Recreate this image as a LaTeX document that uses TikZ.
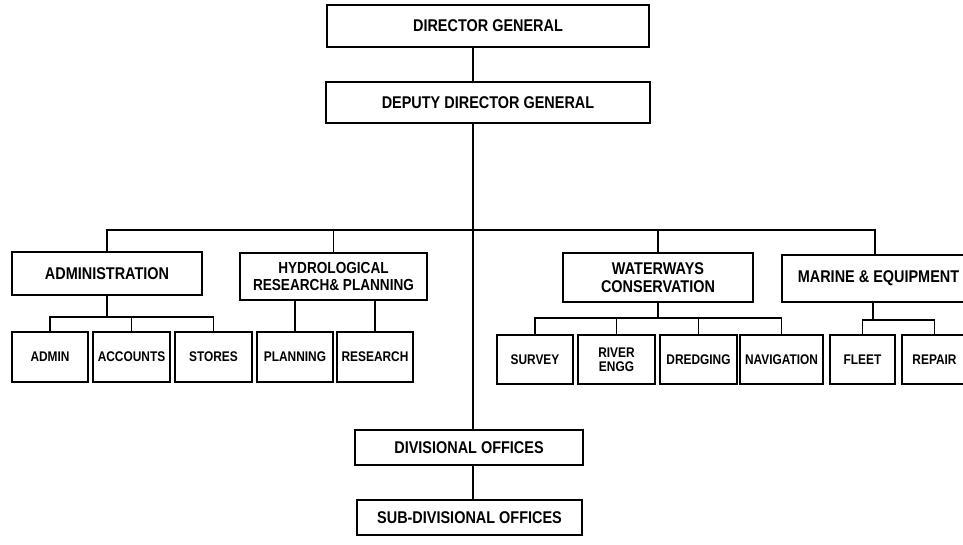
\documentclass[tikz,border=0pt]{standalone}
\usepackage{fontspec}
\setmainfont{Liberation Sans}[FakeStretch=0.85]
\begin{document}
\begin{tikzpicture}[x=1pt,y=-1pt,
  orgbox/.style={draw=black, line width=2.4pt, inner sep=0pt, align=center,
    font=\bfseries\fontsize{17}{18}\selectfont},
  subbox/.style={draw=black, line width=2.4pt, inner sep=0pt, align=center,
    minimum width=76pt, minimum height=50pt,
    font=\bfseries\fontsize{14}{14.5}\selectfont},
  link/.style={draw=black, line width=1.8pt}]
\clip (0,0) rectangle (963,544);
\fill[white] (0,0) rectangle (963,544);
% top
\node[orgbox, minimum width=322pt, minimum height=42pt] (dg) at (488,26) {DIRECTOR GENERAL};
\node[orgbox, minimum width=324pt, minimum height=41pt] (ddg) at (488,102.5) {DEPUTY DIRECTOR GENERAL};
% second level
\node[orgbox, minimum width=190pt, minimum height=43pt] (adm) at (107,273.5) {ADMINISTRATION};
\node[orgbox, minimum width=187pt, minimum height=47pt, font=\bfseries\fontsize{16}{17}\selectfont] (hyd) at (333.5,276.5) {HYDROLOGICAL\\RESEARCH\& PLANNING};
\node[orgbox, minimum width=190pt, minimum height=49pt] (ww) at (658,277.5) {WATERWAYS\\CONSERVATION};
\node[orgbox, minimum width=193pt, minimum height=47pt] (mar) at (878.5,278.5) {MARINE \& EQUIPMENT};
% third level
\node[subbox] (admin) at (50,357) {ADMIN};
\node[subbox, minimum width=77pt] (acc) at (131.5,357) {ACCOUNTS};
\node[subbox, minimum width=77pt] (sto) at (213.5,357) {STORES};
\node[subbox] (pla) at (295,357) {PLANNING};
\node[subbox] (res) at (375,357) {RESEARCH};
\node[subbox, minimum height=49pt] (sur) at (535,359.5) {SURVEY};
\node[subbox, minimum width=77pt, minimum height=49pt] (riv) at (616.5,359.5) {RIVER\\ENGG};
\node[subbox, minimum width=77pt, minimum height=49pt] (dre) at (698.5,359.5) {DREDGING};
\node[subbox, minimum width=83pt, minimum height=49pt] (nav) at (781.5,359.5) {NAVIGATION};
\node[subbox, minimum width=65pt, minimum height=49pt] (fle) at (862.5,359.5) {FLEET};
\node[subbox, minimum width=65pt, minimum height=49pt] (rep) at (934.5,359.5) {REPAIR};
% bottom
\node[orgbox, minimum width=228pt, minimum height=35pt] (div) at (469,447.5) {DIVISIONAL OFFICES};
\node[orgbox, minimum width=225pt, minimum height=35pt] (sdiv) at (469.5,517.5) {SUB-DIVISIONAL OFFICES};
% connector helpers
\coordinate (spine) at (473,0);
\coordinate (bus) at (0,230);
\coordinate (asub) at (0,317);
\coordinate (wsub) at (0,318);
\coordinate (msub) at (873,320);
\coordinate (mdrop) at (875,0);
% connectors
\draw[link] (dg.south -| spine) -- (ddg.north -| spine);
\draw[link] (ddg.south -| spine) -- (div.north -| spine);
\draw[link] (div.south -| spine) -- (sdiv.north -| spine);
\draw[link] (adm.north) |- (mdrop |- bus) -- (mar.north -| mdrop);
\draw[link] (hyd.north) -- (hyd.north |- bus);
\draw[link] (ww.north) -- (ww.north |- bus);
\draw[link] (adm.south) -- (adm.south |- asub);
\draw[link] (admin.north) |- (sto.north |- asub) -- (sto.north);
\draw[link] (acc.north) -- (acc.north |- asub);
\draw[link] (pla.north) -- (pla.north |- hyd.south);
\draw[link] (res.north) -- (res.north |- hyd.south);
\draw[link] (ww.south) -- (ww.south |- wsub);
\draw[link] (sur.north) |- (nav.north |- wsub) -- (nav.north);
\draw[link] (riv.north) -- (riv.north |- wsub);
\draw[link] (dre.north) -- (dre.north |- wsub);
\draw[link] (mar.south -| msub) -- (msub);
\draw[link] (fle.north) |- (rep.north |- msub) -- (rep.north);
\end{tikzpicture}
\end{document}
